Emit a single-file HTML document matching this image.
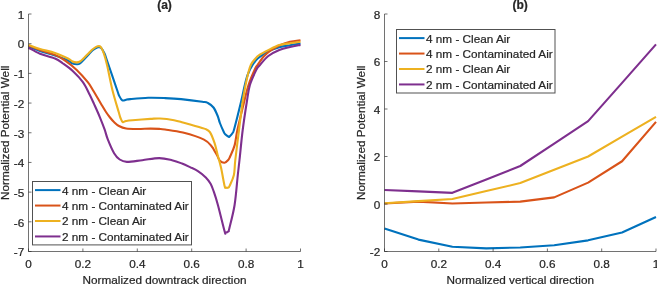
<!DOCTYPE html>
<html><head><meta charset="utf-8"><style>
html,body{margin:0;padding:0;background:#fff;width:657px;height:284px;overflow:hidden}
svg{display:block;will-change:transform}
text{font-family:"Liberation Sans",sans-serif;font-size:11.75px;fill:#262626;stroke:#262626;stroke-width:0.22px}
.t{font-weight:bold;font-size:12px}
</style></head><body>
<svg width="657" height="284" viewBox="0 0 657 284">
<rect width="657" height="284" fill="#fff"/>

<g clip-path="url(#cl)">
<path d="M28.50,46.50 C30.42,47.25 35.58,49.48 40.00,51.00 C44.42,52.52 50.33,54.02 55.00,55.60 C59.67,57.18 65.17,59.23 68.00,60.50 C70.83,61.77 70.50,62.57 72.00,63.20 C73.50,63.83 75.67,64.25 77.00,64.30 C78.33,64.35 78.83,64.30 80.00,63.50 C81.17,62.70 82.48,61.08 84.00,59.50 C85.52,57.92 87.60,55.58 89.10,54.00 C90.60,52.42 91.55,51.12 93.00,50.00 C94.45,48.88 96.47,47.67 97.80,47.30 C99.13,46.93 99.88,46.77 101.00,47.80 C102.12,48.83 103.50,51.38 104.50,53.50 C105.50,55.62 104.90,54.42 107.00,60.50 C109.10,66.58 115.07,84.10 117.10,90.00 C119.13,95.90 118.33,94.17 119.20,95.90 C120.07,97.63 121.17,99.75 122.30,100.40 C123.43,101.05 124.67,100.02 126.00,99.80 C127.33,99.58 126.60,99.43 130.30,99.10 C134.00,98.77 142.40,97.97 148.20,97.80 C154.00,97.63 159.62,97.88 165.10,98.10 C170.58,98.32 174.90,98.50 181.10,99.10 C187.30,99.70 197.83,101.05 202.30,101.70 C206.77,102.35 206.03,102.03 207.90,103.00 C209.77,103.97 211.87,105.33 213.50,107.50 C215.13,109.67 216.63,113.42 217.70,116.00 C218.77,118.58 218.88,120.33 219.90,123.00 C220.92,125.67 222.92,130.12 223.80,132.00 C224.68,133.88 224.40,133.50 225.20,134.30 C226.00,135.10 227.87,136.45 228.60,136.80 C229.33,137.15 228.93,137.03 229.60,136.40 C230.27,135.77 231.83,134.23 232.60,133.00 C233.37,131.77 232.80,134.17 234.20,129.00 C235.60,123.83 239.23,109.33 241.00,102.00 C242.77,94.67 243.63,89.67 244.80,85.00 C245.97,80.33 246.68,77.38 248.00,74.00 C249.32,70.62 251.03,67.32 252.70,64.70 C254.37,62.08 255.40,60.52 258.00,58.30 C260.60,56.08 264.75,53.23 268.30,51.40 C271.85,49.57 275.68,48.33 279.30,47.30 C282.92,46.27 286.47,45.83 290.00,45.20 C293.53,44.57 298.75,43.78 300.50,43.50" fill="none" stroke="#0072BD" stroke-width="2.1" stroke-linejoin="round" stroke-linecap="butt"/>
<path d="M28.50,45.50 C30.42,46.25 35.58,48.43 40.00,50.00 C44.42,51.57 50.93,53.20 55.00,54.90 C59.07,56.60 60.78,57.70 64.40,60.20 C68.02,62.70 72.80,66.23 76.70,69.90 C80.60,73.57 85.08,78.80 87.80,82.20 C90.52,85.60 90.78,86.67 93.00,90.30 C95.22,93.93 98.93,100.38 101.10,104.00 C103.27,107.62 104.52,109.75 106.00,112.00 C107.48,114.25 108.67,115.83 110.00,117.50 C111.33,119.17 112.50,120.58 114.00,122.00 C115.50,123.42 116.98,124.92 119.00,126.00 C121.02,127.08 122.98,128.00 126.10,128.50 C129.22,129.00 133.65,128.98 137.70,129.00 C141.75,129.02 146.82,128.62 150.40,128.60 C153.98,128.58 156.75,128.75 159.20,128.90 C161.65,129.05 161.15,128.88 165.10,129.50 C169.05,130.12 176.42,130.92 182.90,132.60 C189.38,134.28 199.17,137.25 204.00,139.60 C208.83,141.95 210.23,144.97 211.90,146.70 C213.57,148.43 213.12,148.53 214.00,150.00 C214.88,151.47 216.22,153.70 217.20,155.50 C218.18,157.30 218.67,159.60 219.90,160.80 C221.13,162.00 223.22,162.83 224.60,162.70 C225.98,162.57 227.32,160.95 228.20,160.00 C229.08,159.05 228.83,159.43 229.90,157.00 C230.97,154.57 233.35,149.90 234.60,145.40 C235.85,140.90 235.82,137.23 237.40,130.00 C238.98,122.77 242.25,109.50 244.10,102.00 C245.95,94.50 246.68,90.50 248.50,85.00 C250.32,79.50 253.45,72.38 255.00,69.00 C256.55,65.62 256.35,66.78 257.80,64.70 C259.25,62.62 261.65,58.78 263.70,56.50 C265.75,54.22 267.50,52.83 270.10,51.00 C272.70,49.17 275.98,47.03 279.30,45.50 C282.62,43.97 286.47,42.68 290.00,41.80 C293.53,40.92 298.75,40.47 300.50,40.20" fill="none" stroke="#D95319" stroke-width="2.1" stroke-linejoin="round" stroke-linecap="butt"/>
<path d="M28.50,44.90 C30.42,45.58 35.58,47.67 40.00,49.00 C44.42,50.33 50.33,51.32 55.00,52.90 C59.67,54.48 65.17,57.12 68.00,58.50 C70.83,59.88 70.60,60.55 72.00,61.20 C73.40,61.85 75.07,62.35 76.40,62.40 C77.73,62.45 78.73,62.23 80.00,61.50 C81.27,60.77 82.48,59.47 84.00,58.00 C85.52,56.53 87.60,54.20 89.10,52.70 C90.60,51.20 91.58,50.07 93.00,49.00 C94.42,47.93 96.32,46.65 97.60,46.30 C98.88,45.95 99.65,45.67 100.70,46.90 C101.75,48.13 102.83,50.63 103.90,53.70 C104.97,56.77 105.68,59.25 107.10,65.30 C108.52,71.35 110.47,82.22 112.40,90.00 C114.33,97.78 117.35,107.33 118.70,112.00 C120.05,116.67 119.83,116.33 120.50,118.00 C121.17,119.67 121.78,121.50 122.70,122.00 C123.62,122.50 124.38,121.30 126.00,121.00 C127.62,120.70 128.33,120.55 132.40,120.20 C136.47,119.85 145.80,119.18 150.40,118.90 C155.00,118.62 156.05,118.28 160.00,118.50 C163.95,118.72 170.28,119.53 174.10,120.20 C177.92,120.87 180.08,121.73 182.90,122.50 C185.72,123.27 187.18,123.70 191.00,124.80 C194.82,125.90 202.60,127.80 205.80,129.10 C209.00,130.40 208.73,130.25 210.20,132.60 C211.67,134.95 213.35,139.43 214.60,143.20 C215.85,146.97 216.63,151.13 217.70,155.20 C218.77,159.27 219.85,162.47 221.00,167.60 C222.15,172.73 223.80,182.67 224.60,186.00 C225.40,189.33 225.17,187.35 225.80,187.60 C226.43,187.85 227.77,187.80 228.40,187.50 C229.03,187.20 228.68,187.88 229.60,185.80 C230.52,183.72 232.95,179.30 233.90,175.00 C234.85,170.70 234.45,167.50 235.30,160.00 C236.15,152.50 237.78,139.67 239.00,130.00 C240.22,120.33 241.50,109.50 242.60,102.00 C243.70,94.50 244.62,90.00 245.60,85.00 C246.58,80.00 247.62,75.38 248.50,72.00 C249.38,68.62 249.82,66.87 250.90,64.70 C251.98,62.53 253.63,60.60 255.00,59.00 C256.37,57.40 256.88,56.58 259.10,55.10 C261.32,53.62 264.93,51.78 268.30,50.10 C271.67,48.42 275.68,46.15 279.30,45.00 C282.92,43.85 286.47,43.73 290.00,43.20 C293.53,42.67 298.75,42.03 300.50,41.80" fill="none" stroke="#EDB120" stroke-width="2.1" stroke-linejoin="round" stroke-linecap="butt"/>
<path d="M28.50,47.70 C30.42,48.70 35.58,51.90 40.00,53.70 C44.42,55.50 51.17,56.87 55.00,58.50 C58.83,60.13 60.00,61.37 63.00,63.50 C66.00,65.63 69.68,68.18 73.00,71.30 C76.32,74.42 80.13,78.33 82.90,82.20 C85.67,86.07 87.73,90.85 89.60,94.50 C91.47,98.15 92.42,100.38 94.10,104.10 C95.78,107.82 97.95,112.58 99.70,116.80 C101.45,121.02 103.27,125.68 104.60,129.40 C105.93,133.12 106.12,135.13 107.70,139.10 C109.28,143.07 112.10,149.80 114.10,153.20 C116.10,156.60 117.58,158.05 119.70,159.50 C121.82,160.95 123.03,161.78 126.80,161.90 C130.57,162.02 136.90,160.83 142.30,160.20 C147.70,159.57 154.25,158.10 159.20,158.10 C164.15,158.10 168.20,159.30 172.00,160.20 C175.80,161.10 179.00,162.35 182.00,163.50 C185.00,164.65 187.35,165.83 190.00,167.10 C192.65,168.37 195.27,169.38 197.90,171.10 C200.53,172.82 203.68,175.28 205.80,177.40 C207.92,179.52 209.27,181.42 210.60,183.80 C211.93,186.18 212.58,188.17 213.80,191.70 C215.02,195.23 216.10,198.40 217.90,205.00 C219.70,211.60 223.32,226.70 224.60,231.30 C225.88,235.90 224.95,232.60 225.60,232.60 C226.25,232.60 227.88,231.98 228.50,231.30 C229.12,230.62 228.28,232.88 229.30,228.50 C230.32,224.12 233.18,213.92 234.60,205.00 C236.02,196.08 236.98,182.50 237.80,175.00 C238.62,167.50 238.68,167.50 239.50,160.00 C240.32,152.50 241.48,139.67 242.70,130.00 C243.92,120.33 245.60,109.50 246.80,102.00 C248.00,94.50 248.28,90.42 249.90,85.00 C251.52,79.58 254.90,72.75 256.50,69.50 C258.10,66.25 257.53,67.75 259.50,65.50 C261.47,63.25 265.00,58.58 268.30,56.00 C271.60,53.42 275.68,51.50 279.30,50.00 C282.92,48.50 286.47,47.85 290.00,47.00 C293.53,46.15 298.75,45.25 300.50,44.90" fill="none" stroke="#7E2F8E" stroke-width="2.1" stroke-linejoin="round" stroke-linecap="butt"/>

</g>
<g clip-path="url(#cr)">
<path d="M384.50,228.46 L418.44,239.62 L452.38,246.75 L486.31,248.41 L520.25,247.46 L554.19,245.32 L588.12,240.34 L622.06,232.50 L656.00,217.06" fill="none" stroke="#0072BD" stroke-width="2.1" stroke-linejoin="round" stroke-linecap="butt"/>
<path d="M384.50,203.53 L418.44,201.62 L452.38,203.53 L486.31,202.57 L520.25,201.62 L554.19,197.35 L588.12,182.62 L622.06,161.25 L656.00,121.83" fill="none" stroke="#D95319" stroke-width="2.1" stroke-linejoin="round" stroke-linecap="butt"/>
<path d="M384.50,203.29 L418.44,201.15 L452.38,199.01 L486.31,191.06 L520.25,183.10 L554.19,169.80 L588.12,156.50 L622.06,136.55 L656.00,116.84" fill="none" stroke="#EDB120" stroke-width="2.1" stroke-linejoin="round" stroke-linecap="butt"/>
<path d="M384.50,189.99 L418.44,191.41 L452.38,192.84 L486.31,179.42 L520.25,166.00 L554.19,143.56 L588.12,121.11 L622.06,82.88 L656.00,44.40" fill="none" stroke="#7E2F8E" stroke-width="2.1" stroke-linejoin="round" stroke-linecap="butt"/>

</g>
<defs><clipPath id="cl"><rect x="27.5" y="11.0" width="274.0" height="241.5"/></clipPath><clipPath id="cr"><rect x="383.5" y="11.0" width="275.5" height="241.5"/></clipPath></defs>
<path d="M28.5,14.0 V251.5 H300.5" fill="none" stroke="#262626" stroke-width="1.0" stroke-opacity="0.65"/>
<path d="M28.5,14.00 h3" stroke="#262626" stroke-width="1.0" stroke-opacity="0.65"/>
<text x="24.3" y="18.80" text-anchor="end">1</text>
<path d="M28.5,43.69 h3" stroke="#262626" stroke-width="1.0" stroke-opacity="0.65"/>
<text x="24.3" y="48.49" text-anchor="end">0</text>
<path d="M28.5,73.38 h3" stroke="#262626" stroke-width="1.0" stroke-opacity="0.65"/>
<text x="24.3" y="78.17" text-anchor="end">-1</text>
<path d="M28.5,103.06 h3" stroke="#262626" stroke-width="1.0" stroke-opacity="0.65"/>
<text x="24.3" y="107.86" text-anchor="end">-2</text>
<path d="M28.5,132.75 h3" stroke="#262626" stroke-width="1.0" stroke-opacity="0.65"/>
<text x="24.3" y="137.55" text-anchor="end">-3</text>
<path d="M28.5,162.44 h3" stroke="#262626" stroke-width="1.0" stroke-opacity="0.65"/>
<text x="24.3" y="167.24" text-anchor="end">-4</text>
<path d="M28.5,192.12 h3" stroke="#262626" stroke-width="1.0" stroke-opacity="0.65"/>
<text x="24.3" y="196.93" text-anchor="end">-5</text>
<path d="M28.5,221.81 h3" stroke="#262626" stroke-width="1.0" stroke-opacity="0.65"/>
<text x="24.3" y="226.61" text-anchor="end">-6</text>
<path d="M28.5,251.50 h3" stroke="#262626" stroke-width="1.0" stroke-opacity="0.65"/>
<text x="24.3" y="256.30" text-anchor="end">-7</text>
<path d="M28.50,251.5 v-3" stroke="#262626" stroke-width="1.0" stroke-opacity="0.65"/>
<text x="28.50" y="267.6" text-anchor="middle">0</text>
<path d="M82.90,251.5 v-3" stroke="#262626" stroke-width="1.0" stroke-opacity="0.65"/>
<text x="82.90" y="267.6" text-anchor="middle">0.2</text>
<path d="M137.30,251.5 v-3" stroke="#262626" stroke-width="1.0" stroke-opacity="0.65"/>
<text x="137.30" y="267.6" text-anchor="middle">0.4</text>
<path d="M191.70,251.5 v-3" stroke="#262626" stroke-width="1.0" stroke-opacity="0.65"/>
<text x="191.70" y="267.6" text-anchor="middle">0.6</text>
<path d="M246.10,251.5 v-3" stroke="#262626" stroke-width="1.0" stroke-opacity="0.65"/>
<text x="246.10" y="267.6" text-anchor="middle">0.8</text>
<path d="M300.50,251.5 v-3" stroke="#262626" stroke-width="1.0" stroke-opacity="0.65"/>
<text x="300.50" y="267.6" text-anchor="middle">1</text>

<path d="M384.5,14.0 V251.5 H656.0" fill="none" stroke="#262626" stroke-width="1.0" stroke-opacity="0.65"/>
<path d="M384.5,14.00 h3" stroke="#262626" stroke-width="1.0" stroke-opacity="0.65"/>
<text x="380.3" y="18.80" text-anchor="end">8</text>
<path d="M384.5,61.50 h3" stroke="#262626" stroke-width="1.0" stroke-opacity="0.65"/>
<text x="380.3" y="66.30" text-anchor="end">6</text>
<path d="M384.5,109.00 h3" stroke="#262626" stroke-width="1.0" stroke-opacity="0.65"/>
<text x="380.3" y="113.80" text-anchor="end">4</text>
<path d="M384.5,156.50 h3" stroke="#262626" stroke-width="1.0" stroke-opacity="0.65"/>
<text x="380.3" y="161.30" text-anchor="end">2</text>
<path d="M384.5,204.00 h3" stroke="#262626" stroke-width="1.0" stroke-opacity="0.65"/>
<text x="380.3" y="208.80" text-anchor="end">0</text>
<path d="M384.5,251.50 h3" stroke="#262626" stroke-width="1.0" stroke-opacity="0.65"/>
<text x="380.3" y="256.30" text-anchor="end">-2</text>
<path d="M384.50,251.5 v-3" stroke="#262626" stroke-width="1.0" stroke-opacity="0.65"/>
<text x="384.50" y="267.6" text-anchor="middle">0</text>
<path d="M438.80,251.5 v-3" stroke="#262626" stroke-width="1.0" stroke-opacity="0.65"/>
<text x="438.80" y="267.6" text-anchor="middle">0.2</text>
<path d="M493.10,251.5 v-3" stroke="#262626" stroke-width="1.0" stroke-opacity="0.65"/>
<text x="493.10" y="267.6" text-anchor="middle">0.4</text>
<path d="M547.40,251.5 v-3" stroke="#262626" stroke-width="1.0" stroke-opacity="0.65"/>
<text x="547.40" y="267.6" text-anchor="middle">0.6</text>
<path d="M601.70,251.5 v-3" stroke="#262626" stroke-width="1.0" stroke-opacity="0.65"/>
<text x="601.70" y="267.6" text-anchor="middle">0.8</text>
<path d="M656.00,251.5 v-3" stroke="#262626" stroke-width="1.0" stroke-opacity="0.65"/>
<text x="656.00" y="267.6" text-anchor="middle">1</text>

<text class="t" x="164.5" y="8.7" text-anchor="middle">(a)</text>
<text class="t" x="520.2" y="8.7" text-anchor="middle">(b)</text>
<text x="164.5" y="283.6" text-anchor="middle">Normalized downtrack direction</text>
<text x="520.2" y="283.6" text-anchor="middle">Normalized vertical direction</text>
<text transform="translate(8.7,132.8) rotate(-90)" text-anchor="middle">Normalized Potential Well</text>
<text transform="translate(365.1,132.8) rotate(-90)" text-anchor="middle">Normalized Potential Well</text>
<rect x="32.5" y="181.5" width="159" height="63.4" fill="#fff" stroke="#262626" stroke-opacity="0.8" stroke-width="1.0"/>
<path d="M35.0,190.10 h25.5" stroke="#0072BD" stroke-width="2"/>
<text x="62.0" y="194.50">4 nm - Clean Air</text>
<path d="M35.0,205.55 h25.5" stroke="#D95319" stroke-width="2"/>
<text x="62.0" y="209.95">4 nm - Contaminated Air</text>
<path d="M35.0,221.00 h25.5" stroke="#EDB120" stroke-width="2"/>
<text x="62.0" y="225.40">2 nm - Clean Air</text>
<path d="M35.0,236.45 h25.5" stroke="#7E2F8E" stroke-width="2"/>
<text x="62.0" y="240.85">2 nm - Contaminated Air</text>

<rect x="396.5" y="29.5" width="158.5" height="63.5" fill="#fff" stroke="#262626" stroke-opacity="0.8" stroke-width="1.0"/>
<path d="M399.0,38.10 h25.5" stroke="#0072BD" stroke-width="2"/>
<text x="426.0" y="42.50">4 nm - Clean Air</text>
<path d="M399.0,53.55 h25.5" stroke="#D95319" stroke-width="2"/>
<text x="426.0" y="57.95">4 nm - Contaminated Air</text>
<path d="M399.0,69.00 h25.5" stroke="#EDB120" stroke-width="2"/>
<text x="426.0" y="73.40">2 nm - Clean Air</text>
<path d="M399.0,84.45 h25.5" stroke="#7E2F8E" stroke-width="2"/>
<text x="426.0" y="88.85">2 nm - Contaminated Air</text>

</svg></body></html>
